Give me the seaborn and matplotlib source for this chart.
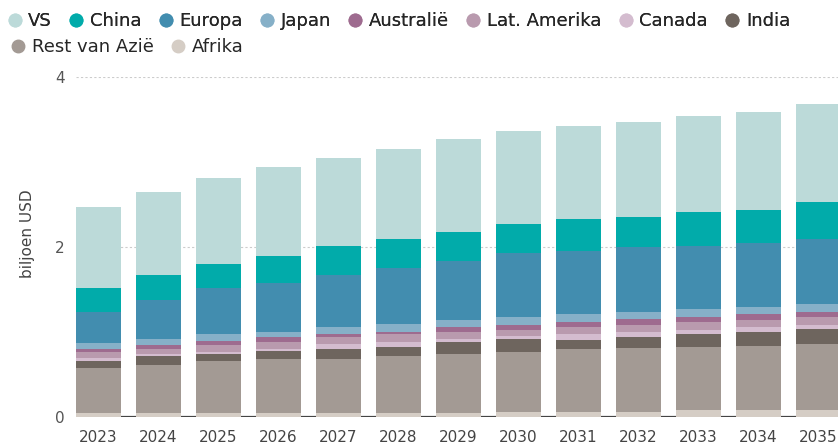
import pandas as pd
import numpy as np
import matplotlib.pyplot as plt
import seaborn as sns
from matplotlib.lines import Line2D

# data (biljoen USD)
jaren = list(range(2023, 2036))

vs = [0.953, 0.976, 1.011, 1.046, 1.035, 1.059, 1.094, 1.094, 1.094, 1.118, 1.129, 1.153, 1.153]
china = [0.282, 0.294, 0.278, 0.318, 0.341, 0.341, 0.341, 0.345, 0.373, 0.357, 0.400, 0.388, 0.435]
europa = [0.365, 0.459, 0.545, 0.576, 0.612, 0.659, 0.694, 0.749, 0.745, 0.761, 0.741, 0.753, 0.765]
japan = [0.071, 0.071, 0.082, 0.059, 0.082, 0.094, 0.082, 0.094, 0.094, 0.082, 0.094, 0.082, 0.094]
australie = [0.035, 0.047, 0.047, 0.059, 0.035, 0.024, 0.059, 0.059, 0.059, 0.071, 0.059, 0.071, 0.059]
lat_amerika = [0.067, 0.059, 0.082, 0.082, 0.082, 0.094, 0.082, 0.071, 0.082, 0.082, 0.094, 0.082, 0.094]
canada = [0.039, 0.024, 0.024, 0.024, 0.059, 0.059, 0.035, 0.035, 0.071, 0.059, 0.047, 0.059, 0.047]
india = [0.082, 0.106, 0.082, 0.094, 0.118, 0.106, 0.141, 0.153, 0.106, 0.129, 0.153, 0.165, 0.176]
rest_azie = [0.529, 0.565, 0.612, 0.635, 0.635, 0.671, 0.694, 0.706, 0.741, 0.753, 0.741, 0.753, 0.776]
afrika = [0.051, 0.051, 0.051, 0.051, 0.051, 0.051, 0.051, 0.063, 0.063, 0.063, 0.086, 0.086, 0.086]

regios = ["VS", "China", "Europa", "Japan", "Australië", "Lat. Amerika",
          "Canada", "India", "Rest van Azië", "Afrika"]
reeksen = [vs, china, europa, japan, australie, lat_amerika, canada, india, rest_azie, afrika]
kleuren = ["#bcdad9", "#01abaa", "#428daf", "#86b0c8", "#9e6b8f", "#b99aae",
           "#d4bccf", "#6e655e", "#a39a94", "#d5cdc5"]

rows = []
for regio, waarden in zip(regios, reeksen):
    for jaar, w in zip(jaren, waarden):
        rows.append({"jaar": jaar, "regio": regio, "waarde": w})
df = pd.DataFrame(rows)

sns.set_style("white")
fig = plt.figure(figsize=(8.38, 4.45), dpi=100)
ax = fig.add_axes([76 / 838, 27.7 / 445, 762 / 838, 340 / 445])

# first hue level ends up on top of the stack
sns.histplot(data=df, x="jaar", weights="waarde", hue="regio", hue_order=regios,
             palette=dict(zip(regios, kleuren)), multiple="stack", discrete=True,
             shrink=0.75, alpha=1, linewidth=0, edgecolor="none", legend=False, ax=ax)

ax.set_xlim(2022.625, 2035.325)
ax.set_ylim(0, 4)
ax.set_xticks(jaren)
ax.set_yticks([0, 2, 4])
ax.tick_params(axis="x", length=0, pad=9, labelsize=11, labelcolor="#444444")
ax.tick_params(axis="y", length=0, pad=8, labelsize=11, labelcolor="#555555")
for s in ax.spines.values():
    s.set_visible(False)
for yv in [2, 4]:
    ax.axhline(yv, color="#cccccc", lw=0.8, ls=(0, (2, 2)), zorder=0)
ax.axhline(0, color="#444444", lw=1.6, zorder=0)
ax.set_xlabel("")
ax.set_ylabel("biljoen USD", fontsize=11, color="#444444")
ax.yaxis.set_label_coords(-0.054, 0.54)

handles = [Line2D([], [], marker="o", ls="", color=c, markersize=9) for c in kleuren]
leg_kw = dict(frameon=False, loc="center left", borderaxespad=0, borderpad=0,
              handletextpad=0.35, columnspacing=0.95, handlelength=0.8, fontsize=13)
leg1 = fig.legend(handles[:8], regios[:8], ncol=8, bbox_to_anchor=(0.009, 1 - 21 / 445), **leg_kw)
fig.add_artist(leg1)
fig.legend(handles[8:], regios[8:], ncol=2, bbox_to_anchor=(0.013, 1 - 47 / 445), **leg_kw)

fig.savefig("out.png", dpi=100)
